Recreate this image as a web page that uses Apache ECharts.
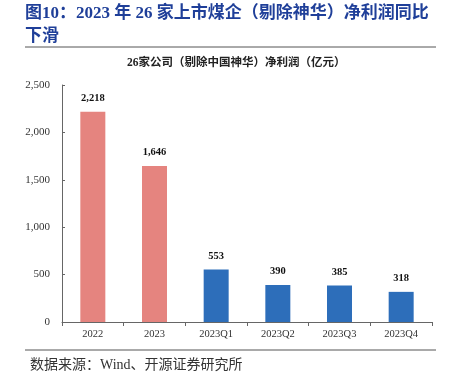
<!DOCTYPE html>
<html><head><meta charset="utf-8">
<script src="https://cdn.jsdelivr.net/npm/echarts@6/dist/echarts.min.js"></script>
<style>html,body{margin:0;padding:0;background:#fff}#c{width:451px;height:385px}</style>
</head><body><div id="c"></div>
<script>
var categories = ['2022','2023','2023Q1','2023Q2','2023Q3','2023Q4'];
var profits = [2218, 1646, 553, 390, 385, 318];
var barColors = ['#E5847F','#E5847F','#2D6EBA','#2D6EBA','#2D6EBA','#2D6EBA'];
var yTicks = [0, 500, 1000, 1500, 2000, 2500];

var serif = '"Liberation Serif","Noto Sans CJK SC",serif';
var chart = echarts.init(document.getElementById('c'));
chart.setOption({
  animation:false,
  title:[
    {text:'图10：2023 年 26 家上市煤企（剔除神华）净利润同比\n下滑', left:25, top:2, padding:[0,0,0,0],
     textStyle:{fontFamily:serif, fontSize:17, fontWeight:'bold', color:'#1F3F99', lineHeight:23}},
    {text:'26家公司（剔除中国神华）净利润（亿元）', left:122, top:52,
     textStyle:{fontFamily:serif, fontSize:11.5, fontWeight:'bold', color:'#222'}},
    {text:'数据来源：Wind、开源证券研究所', left:25, top:353,
     textStyle:{fontFamily:serif, fontSize:14, fontWeight:'normal', color:'#333'}}
  ],
  graphic:[
    {type:'line', shape:{x1:25,y1:47,x2:436,y2:47}, style:{stroke:'#555',lineWidth:1}},
    {type:'line', shape:{x1:25,y1:350,x2:436,y2:350}, style:{stroke:'#555',lineWidth:1}}
  ],
  grid:{left:62, right:19, top:85, bottom:63},
  xAxis:{type:'category', data:categories,
    axisLine:{lineStyle:{color:'#666'}},
    axisTick:{show:true, length:4, lineStyle:{color:'#666'}},
    axisLabel:{fontFamily:serif, fontSize:10.5, color:'#333', margin:7}},
  yAxis:{type:'value', min:yTicks[0], max:yTicks[yTicks.length-1], interval:500,
    axisLine:{show:true, lineStyle:{color:'#666'}},
    axisTick:{show:true, inside:true, length:3, lineStyle:{color:'#666'}},
    splitLine:{show:false},
    axisLabel:{fontFamily:serif, fontSize:11, color:'#333', margin:12,
      formatter:function(v){return v.toLocaleString('en-US');}}},
  series:[{type:'bar', barWidth:25,
    data:profits.map(function(v,i){return {value:v, itemStyle:{color:barColors[i]}};}),
    label:{show:true, position:'top', distance:8, fontFamily:serif, fontSize:10.5, fontWeight:'bold', color:'#111',
      formatter:function(p){return p.value.toLocaleString('en-US');}}}]
});
</script></body></html>
